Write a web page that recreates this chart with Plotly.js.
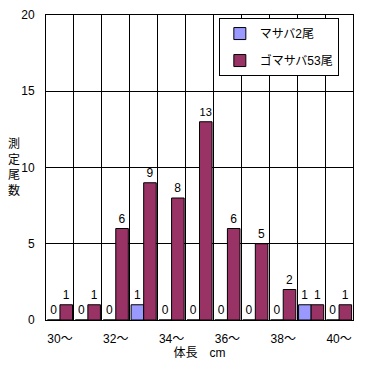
<!DOCTYPE html>
<html><head><meta charset="utf-8">
<script src="https://cdn.plot.ly/plotly-3.0.1.min.js"></script>
<style>body{margin:0;background:#fff}#c{width:371px;height:365px}</style>
</head><body><div id="c"></div>
<script>
const categories = ['30〜','31〜','32〜','33〜','34〜','35〜','36〜','37〜','38〜','39〜','40〜'];
const masaba = [0,0,0,1,0,0,0,0,0,1,0];
const gomasaba = [1,1,6,9,8,13,6,5,2,1,1];
const tickLabels = ['30〜','32〜','34〜','36〜','38〜','40〜'];
const xIdx = categories.map((c,i)=>i);
const tickIdx = tickLabels.map(t=>categories.indexOf(t));
const F = 'Liberation Sans, Noto Sans CJK JP, sans-serif';
const traces = [
  {type:'bar', name:'マサバ2尾', x:xIdx, y:masaba, legendgroup:'a',
   marker:{color:'#9999FF', line:{color:'#000', width:1}},
   text:masaba.map(String), textposition:'outside', cliponaxis:false,
   textfont:{family:F,size:12,color:'#000'}},
  {type:'bar', name:'ゴマサバ53尾', x:xIdx, y:gomasaba, legendgroup:'b',
   marker:{color:'#993366', line:{color:'#000', width:1}},
   text:gomasaba.map(String), textposition:'outside', cliponaxis:false,
   textfont:{family:F,size:12,color:'#000'}}
];
const layout = {
  width:371, height:365, margin:{l:46,r:18,t:15,b:45},
  paper_bgcolor:'#fff', plot_bgcolor:'#fff',
  font:{family:F,size:12,color:'#000'},
  barmode:'group', bargap:0.1, bargroupgap:0,
  showlegend:true,
  legend:{x:0.563, y:0.99, xanchor:'left', yanchor:'top', bgcolor:'#fff',
    bordercolor:'#000', borderwidth:1, traceorder:'grouped', tracegroupgap:8,
    font:{family:F,size:12,color:'#000'}, itemwidth:30},
  xaxis:{range:[-0.5,10.5], tickvals:tickIdx, ticktext:tickLabels, showgrid:false,
    zeroline:false, showline:true, linecolor:'#000', mirror:true, ticks:'',
    ticklabelstandoff:8,
    minor:{tick0:-0.5, dtick:1, showgrid:true, gridcolor:'#000', gridwidth:1, ticks:''},
    title:{text:'体長\u3000cm', font:{family:F,size:12}, standoff:2}},
  yaxis:{range:[0,20], dtick:5, showgrid:true, gridcolor:'#000', gridwidth:1,
    zeroline:false, showline:true, linecolor:'#000', mirror:true, ticks:'',
    ticklabelstandoff:8, fixedrange:true},
  annotations:[{text:'測<br>定<br>尾<br>数', xref:'paper', yref:'paper', x:-0.104, y:0.5,
    xanchor:'center', yanchor:'middle', showarrow:false, font:{family:F,size:12}}]
};
Plotly.newPlot('c', traces, layout, {staticPlot:true});
</script></body></html>
